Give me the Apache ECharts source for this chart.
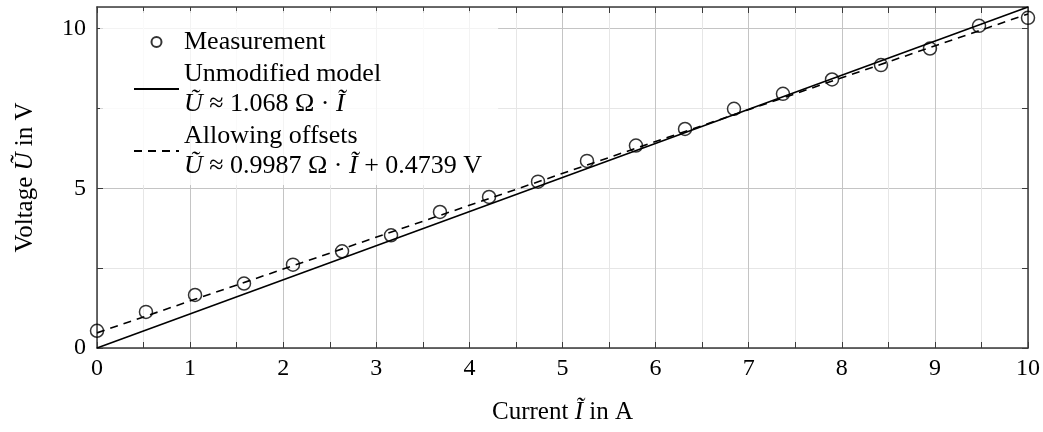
<!DOCTYPE html>
<html>
<head>
<meta charset="utf-8">
<script src="https://cdn.jsdelivr.net/npm/echarts@6/dist/echarts.min.js"></script>
<style>html,body{margin:0;padding:0;background:#fff}#c{width:1043px;height:432px}</style>
</head>
<body>
<div id="c"></div>
<script>
// Measurements
var current = [0, 0.526, 1.053, 1.579, 2.105, 2.632, 3.158, 3.684, 4.211, 4.737,
               5.263, 5.789, 6.316, 6.842, 7.368, 7.895, 8.421, 8.947, 9.474, 10];
var voltage = [0.54, 1.13, 1.66, 2.02, 2.61, 3.03, 3.53, 4.26, 4.73, 5.21,
               5.86, 6.34, 6.86, 7.49, 7.96, 8.41, 8.86, 9.38, 10.09, 10.34];
// Fitted model lines (end points)
var lineX = [0, 10];
var modelY = [0, 10.68];
var offsetY = [0.4739, 10.4609];
var xTicks = [0, 1, 2, 3, 4, 5, 6, 7, 8, 9, 10];
var yTicks = [0, 5, 10];
var seriesNames = ['Measurement', 'Unmodified model', 'Allowing offsets'];
var legendText = {
  'Measurement': 'Measurement',
  'Unmodified model': 'Unmodified model\n{i|Ũ} ≈ 1.068 Ω · {i|Ĩ}',
  'Allowing offsets': 'Allowing offsets\n{i|Ũ} ≈ 0.9987 Ω · {i|Ĩ} + 0.4739 V'
};

var FONT = '"Liberation Serif", "DejaVu Serif", serif';
var FS = 25, LFS = 26, TFS = 24;
var AX = '#3a3a3a';
var MAJ = '#c4c4c4', MIN = '#e6e6e6';

function pairs(xs, ys) { return xs.map(function (x, i) { return [x, ys[i]]; }); }

var chart = echarts.init(document.getElementById('c'), null, {renderer: 'canvas'});
var baseX = {
  type: 'value', min: 0, max: 10, interval: 0.5,
  axisLine: {show: true, onZero: false, lineStyle: {color: AX, width: 1.5}},
  axisTick: {show: true, inside: true, length: 6, lineStyle: {color: AX, width: 1}},
  splitLine: {show: false}
};
var baseY = {
  type: 'value', min: 0, max: 10.68, interval: 2.5,
  axisLine: {show: true, onZero: false, lineStyle: {color: AX, width: 1.5}},
  axisTick: {show: true, inside: true, length: 6, lineStyle: {color: AX, width: 1}},
  splitLine: {show: false}
};
var italic = {i: {fontFamily: FONT, fontSize: FS, fontStyle: 'italic', color: '#000'}};

chart.setOption({
  animation: false,
  backgroundColor: '#fff',
  textStyle: {fontFamily: FONT},
  grid: {left: 97, right: 15, top: 7, bottom: 84, containLabel: false},
  xAxis: [
    Object.assign({}, baseX, {
      position: 'bottom',
      name: 'Current {i|Ĩ} in A', nameLocation: 'middle', nameGap: 52,
      nameTextStyle: {fontFamily: FONT, fontSize: FS, color: '#000', rich: italic},
      axisLabel: {show: true, margin: 9, fontFamily: FONT, fontSize: TFS, color: '#000',
        formatter: function (v) { return xTicks.indexOf(v) >= 0 ? String(v) : ''; }},
      splitLine: {show: true, lineStyle: {color: [MAJ, MIN], width: 1}}
    }),
    Object.assign({}, baseX, {position: 'top', axisLabel: {show: false}})
  ],
  yAxis: [
    Object.assign({}, baseY, {
      position: 'left',
      name: 'Voltage {i|Ũ} in V', nameLocation: 'middle', nameGap: 59,
      nameTextStyle: {fontFamily: FONT, fontSize: FS, color: '#000', rich: italic},
      axisLabel: {show: true, margin: 11, fontFamily: FONT, fontSize: TFS, color: '#000',
        showMaxLabel: false,
        formatter: function (v) { return yTicks.indexOf(v) >= 0 ? String(v) : ''; }},
      splitLine: {show: true, lineStyle: {color: [MAJ, MIN], width: 1}}
    }),
    Object.assign({}, baseY, {position: 'right', axisLabel: {show: false}})
  ],
  legend: {
    orient: 'vertical', left: 100, top: 11,
    padding: [16, 16, 4, 33],
    backgroundColor: 'rgba(255,255,255,0.8)',
    itemWidth: 45, itemHeight: 10, itemGap: 2,
    data: [
      {name: seriesNames[0]},
      {name: seriesNames[1], itemStyle: {color: 'rgba(0,0,0,0)', borderWidth: 0}},
      {name: seriesNames[2], itemStyle: {color: 'rgba(0,0,0,0)', borderWidth: 0}}
    ],
    formatter: function (n) { return legendText[n]; },
    textStyle: {fontFamily: FONT, fontSize: LFS, color: '#000', lineHeight: 30,
      rich: {i: {fontFamily: FONT, fontSize: LFS, fontStyle: 'italic', color: '#000', lineHeight: 30}}}
  },
  series: [
    {
      name: seriesNames[0], type: 'scatter', xAxisIndex: 0, yAxisIndex: 0,
      data: pairs(current, voltage), symbol: 'circle', symbolSize: 13, z: 3,
      itemStyle: {color: 'rgba(255,255,255,0)', borderColor: '#000', borderWidth: 1.5}
    },
    {
      name: seriesNames[1], type: 'line', xAxisIndex: 0, yAxisIndex: 0,
      data: pairs(lineX, modelY), symbol: 'none', z: 2,
      lineStyle: {color: '#000', width: 1.6, type: 'solid'}, itemStyle: {color: '#000'}
    },
    {
      name: seriesNames[2], type: 'line', xAxisIndex: 0, yAxisIndex: 0,
      data: pairs(lineX, offsetY), symbol: 'none', z: 2,
      lineStyle: {color: '#000', width: 1.6, type: [8, 6]}, itemStyle: {color: '#000'}
    }
  ]
});
</script>
</body>
</html>
